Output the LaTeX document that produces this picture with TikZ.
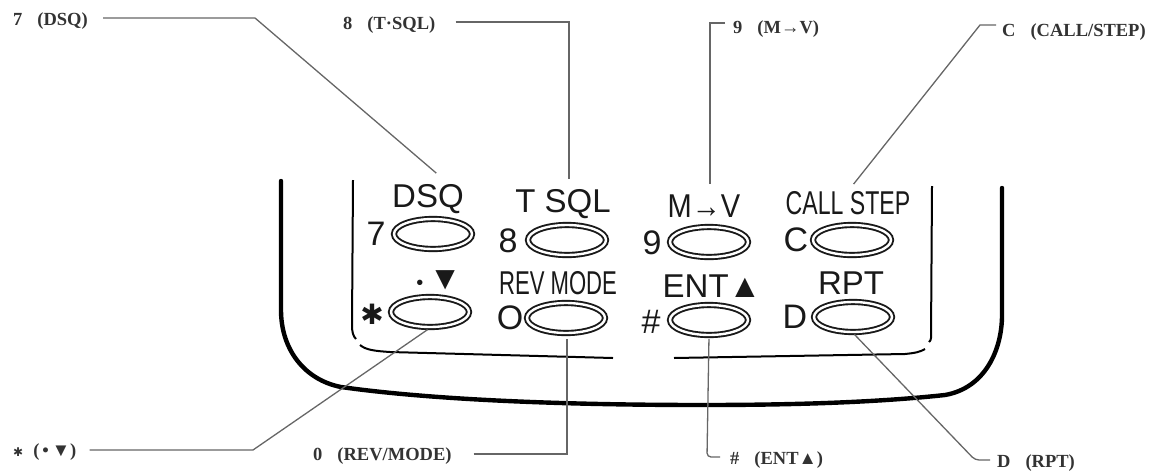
\documentclass[tikz,border=0pt]{standalone}
\usepackage{fontspec}
\setmainfont{Liberation Serif}
\setsansfont{Liberation Sans}
\newfontfamily\symfont{DejaVu Sans}
\usetikzlibrary{shapes.geometric}
\newcommand{\notegap}{\hspace{15pt}}
\tikzset{
    keycap/.style={ellipse,draw=black!90,double,double distance=2.4pt,line width=1.9pt,
        minimum width=78pt,minimum height=30pt,inner sep=0pt},
    captext/.style={inner sep=0pt,font=\sffamily\fontsize{33}{33}\selectfont,text=black!90},
    digit/.style={inner sep=0pt,font=\sffamily\fontsize{34}{34}\selectfont,text=black!90},
    note/.style={inner sep=0pt,font=\bfseries\fontsize{18.5}{19}\selectfont,text=black!80},
    leader/.style={draw=black!60,line width=1.3pt},
}
\begin{document}
\begin{tikzpicture}[x=1pt,y=-1pt]
    \useasboundingbox (0,0) rectangle (1151,472);
    % case and inner panel
    \draw[line width=4.4pt,line cap=round] (281,181) -- (281,310)
        .. controls (281,350) and (305,380) .. (341,387)
        .. controls (440,401) and (580,405) .. (703,405)
        .. controls (800,405) and (880,402) .. (945,395)
        .. controls (985,388) and (1002,350) .. (1002,315) -- (1002,188);
    \draw[line width=2pt] (353,180) -- (352,325) .. controls (352,332) and (353,336) .. (356,339);
    \draw[line width=2pt] (360,345) .. controls (366,350) and (375,351) .. (390,352) -- (613,358);
    \draw[line width=2pt] (674,358) -- (905,354) .. controls (915,353) and (920,352) .. (925,349);
    \draw[line width=2pt] (932,186) -- (931,338) .. controls (931,340) and (930,341) .. (929,342);
    % keys
    \foreach \name/\x/\y in {seven/433/234,eight/567/240,nine/709/242,callkey/852/240,
            star/430/312,zero/566/318,hash/709/320,rpt/853/317}
        \node[keycap] (key\name) at (\x,\y) {};
    % key digits
    \foreach \name/\x/\y/\txt in {seven/376/234/7,eight/508/241/8,nine/652/243/9,callkey/796/240/C,
            zero/510/318/O,hash/651/322/\#,rpt/795/317/D}
        \node[digit] (dig\name) at (\x,\y) {\txt};
    \node[digit] (digstar) at (372,314) {\symfont\fontsize{28}{28}\selectfont ✱};
    % key captions
    \node[captext] (capseven) at (428,199) {DSQ};
    \node[captext] (capeight) at (563,204) {T SQL};
    \node[captext,xscale=0.88] (capnine) at (704,206) {M→V};
    \node[captext,xscale=0.70] (capcall) at (848,203) {CALL STEP};
    \node[captext] (capstar) at (439,280) {{\fontsize{20}{20}\selectfont•}\,▼};
    \node[captext,xscale=0.67] (caprev) at (558,283) {REV MODE};
    \node[captext] (capent) at (712,286) {ENT▲};
    \node[captext] (caprpt) at (851,283) {RPT};
    % side labels
    \node[note,anchor=west] (lab7) at (13,21) {7\notegap(DSQ)};
    \node[note,anchor=west] (lab8) at (343,25) {8\notegap(T·SQL)};
    \node[note,anchor=west] (lab9) at (733,29) {9\notegap(M→V)};
    \node[note,anchor=west] (labc) at (1002,32) {C\notegap(CALL/STEP)};
    \node[note,anchor=west] (labstar) at (13,452) {{\symfont\fontsize{12}{12}\selectfont ✱}\hspace{10pt}(\hspace{3pt}•\hspace{3pt}▼)};
    \node[note,anchor=west] (lab0) at (313,456) {0\notegap(REV/MODE)};
    \node[note,anchor=west] (labhash) at (730,460) {\#\notegap(ENT▲)};
    \node[note,anchor=west] (labd) at (997,463) {D\notegap(RPT)};
    % leaders
    \coordinate (bend7) at (255,18);
    \coordinate (bend8) at (569,22);
    \coordinate (bend9) at (710,23);
    \coordinate (bendc) at (980,25);
    \coordinate (bendstar) at (253,450);
    \coordinate (bend0) at (567,454);
    \coordinate (bendhash) at (707,457);
    \coordinate (bendd) at (975,460);
    \draw[leader,shorten <=15pt,shorten >=17pt] (lab7.east |- bend7) -- (bend7) -- (capseven.35);
    \draw[leader,shorten <=20pt,shorten >=10pt] (lab8.east |- bend8) -- (bend8) -- (bend8 |- capeight.north);
    \draw[leader,shorten <=8pt,shorten >=10pt] (lab9.west |- bend9) -- (bend9) -- (bend9 |- capnine.north);
    \draw[leader,shorten <=6pt,shorten >=9pt] (labc.west |- bendc) -- (bendc) -- (capcall.north);
    \draw[leader,shorten <=13pt,shorten >=3pt] (labstar.east |- bendstar) -- (bendstar) -- (keystar.south);
    \draw[leader,shorten <=22pt,shorten >=5pt] (lab0.east |- bend0) -- (bend0) -- (bend0 |- keyzero.south);
    \draw[leader,shorten <=10pt,shorten >=3pt,rounded corners=4pt] (labhash.west |- bendhash) -- (bendhash) -- (keyhash.south);
    \draw[leader,shorten <=7pt,shorten >=2pt,rounded corners=4pt] (labd.west |- bendd) -- (bendd) -- (keyrpt.south);
\end{tikzpicture}
\end{document}
